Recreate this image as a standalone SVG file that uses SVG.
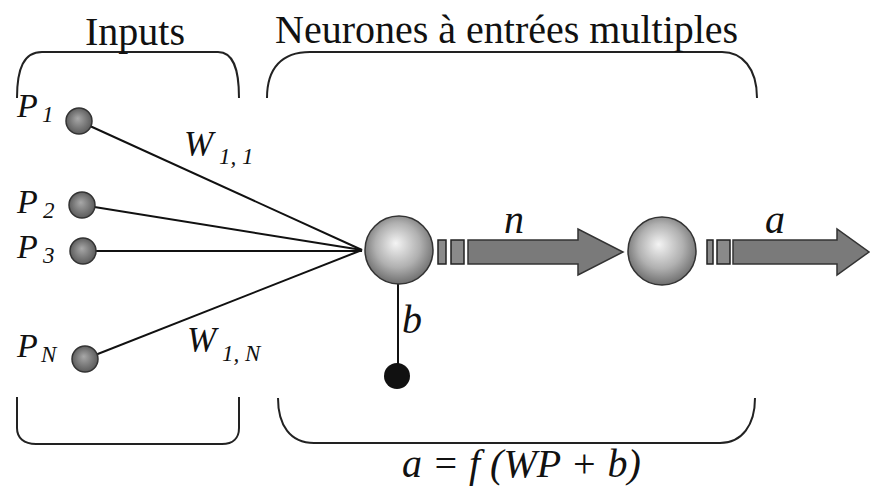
<svg xmlns="http://www.w3.org/2000/svg" width="870" height="486" viewBox="0 0 870 486">
<defs>
<radialGradient id="gBig" cx="50%" cy="45%" r="55%" fx="45%" fy="40%">
<stop offset="0" stop-color="#f4f4f4"/>
<stop offset="0.6" stop-color="#b0b0b0"/>
<stop offset="1" stop-color="#6e6e6e"/>
</radialGradient>
<radialGradient id="gSmall" cx="50%" cy="50%" r="55%" fx="45%" fy="40%">
<stop offset="0" stop-color="#a8a8a8"/>
<stop offset="1" stop-color="#555"/>
</radialGradient>
<style>
.br{fill:none;stroke:#222;stroke-width:2}
.ln{stroke:#111;stroke-width:2;fill:none}
.in{fill:url(#gSmall);stroke:#333;stroke-width:1.5}
.big{fill:url(#gBig);stroke:#333;stroke-width:1.5}
.bar{fill:#8a8a8a;stroke:#222;stroke-width:1.5}
.arr{fill:#7a7a7a;stroke:#333;stroke-width:1.5}
</style>
</defs>
<g id="brackets">
<path class="br" d="M17,98 C17,68 24,52 42,52 L218,52 C233,52 239,68 239,98"/>
<path class="br" d="M17,397 L17,428 C17,438 24,444 36,444 L222,444 C233,444 239,438 239,428 L239,397"/>
<path class="br" d="M267,98 C267,68 282,52 310,52 L722,52 C742,52 757,68 757,98"/>
<path class="br" d="M278,398 C278,425 290,443 314,443 L720,443 C742,443 755,425 755,398"/>
</g>
<g id="titles" fill="#111">
<text font-family="Liberation Serif" font-size="40" x="85" y="45">Inputs</text>
<text font-family="Liberation Serif" font-size="40" x="275" y="43">Neurones à entrées multiples</text>
</g>
<g id="connectors">
<line class="ln" x1="79" y1="121" x2="362" y2="250"/>
<line class="ln" x1="82" y1="205" x2="362" y2="250"/>
<line class="ln" x1="83" y1="251" x2="362" y2="251"/>
<line class="ln" x1="85" y1="359" x2="362" y2="250"/>
<line class="ln" x1="398" y1="284" x2="398" y2="375"/>
</g>
<g fill="#111">
<g id="input1"><circle class="in" cx="79" cy="121" r="13"/><text font-family="Liberation Serif" font-style="italic" font-size="34" x="17" y="117">P</text><text font-family="Liberation Serif" font-style="italic" font-size="23" x="42" y="122">1</text></g>
<g id="input2"><circle class="in" cx="82" cy="205" r="13"/><text font-family="Liberation Serif" font-style="italic" font-size="34" x="17" y="213">P</text><text font-family="Liberation Serif" font-style="italic" font-size="23" x="43" y="218">2</text></g>
<g id="input3"><circle class="in" cx="83" cy="251" r="13"/><text font-family="Liberation Serif" font-style="italic" font-size="34" x="17" y="258">P</text><text font-family="Liberation Serif" font-style="italic" font-size="23" x="43" y="263">3</text></g>
<g id="inputN"><circle class="in" cx="85" cy="359" r="13"/><text font-family="Liberation Serif" font-style="italic" font-size="34" x="17" y="357">P</text><text font-family="Liberation Serif" font-style="italic" font-size="23" x="41" y="362">N</text></g>
<g id="w11"><text font-family="Liberation Serif" font-style="italic" font-size="35" x="184" y="156">W</text><text font-family="Liberation Serif" font-style="italic" font-size="23" x="219" y="164">1, 1</text></g>
<g id="w1n"><text font-family="Liberation Serif" font-style="italic" font-size="35" x="187" y="352">W</text><text font-family="Liberation Serif" font-style="italic" font-size="23" x="222" y="361">1, N</text></g>
<g id="sum">
<circle class="big" cx="399" cy="250" r="34"/>
<rect class="bar" x="438" y="240" width="8" height="24"/>
<rect class="bar" x="451" y="240" width="13" height="24"/>
<polygon class="arr" points="468,240 578,240 578,229 623,252 578,275 578,264 468,264"/>
<text font-family="Liberation Serif" font-style="italic" font-size="40" x="504" y="233">n</text>
</g>
<g id="bias"><circle cx="397" cy="376" r="13" fill="#111"/><text font-family="Liberation Serif" font-style="italic" font-size="40" x="402" y="333">b</text></g>
<g id="transfer">
<circle class="big" cx="662" cy="251" r="34"/>
<rect class="bar" x="707" y="240" width="6" height="24"/>
<rect class="bar" x="717" y="240" width="13" height="24"/>
<polygon class="arr" points="733,240 837,240 837,229 869,252 837,275 837,264 733,264"/>
<text font-family="Liberation Serif" font-style="italic" font-size="40" x="765" y="233">a</text>
</g>
<g id="formula"><text font-family="Liberation Serif" font-style="italic" font-size="40" x="402" y="477">a = f (WP + b)</text></g>
</g>
</svg>
